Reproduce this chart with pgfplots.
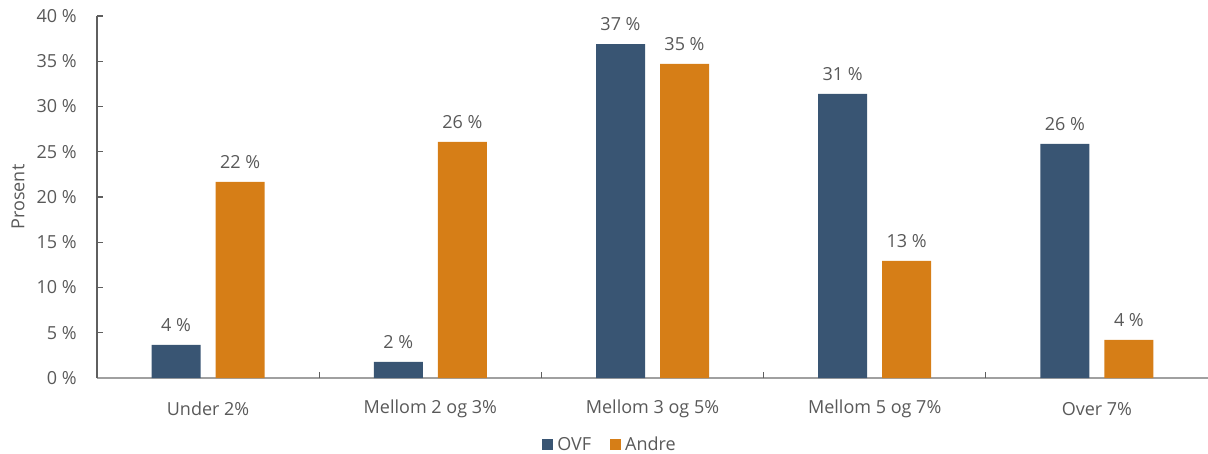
\documentclass[border=0pt]{standalone}
\usepackage{pgfplots}
\pgfplotsset{compat=1.18}
\usepackage{fontspec}
\setmainfont{Open Sans}
\definecolor{ovf}{HTML}{395573}
\definecolor{andre}{HTML}{D67E17}
\definecolor{txt}{HTML}{595959}
\definecolor{yline}{HTML}{5F5F5F}
\definecolor{xline}{HTML}{A0A0A0}

\begin{document}
\fontsize{9pt}{11pt}\selectfont
\begin{tikzpicture}
\useasboundingbox (-48.5pt,-38pt) rectangle (555.5pt,189pt);
\begin{axis}[
  scale only axis, width=555.5pt, height=181pt,
  xmin=-0.5, xmax=4.5, ymin=0, ymax=40,
  clip=false,
  axis x line=bottom, axis y line=left,
  x axis line style={draw=xline, line width=0.7pt, -},
  y axis line style={draw=yline, line width=0.6pt, -},
  tick align=inside, major tick length=3pt,
  ytick={0,5,...,40},
  ytick style={draw=yline, line width=0.6pt},
  yticklabel={\pgfmathprintnumber{\tick}~\%},
  yticklabel style={text=txt, anchor=east, inner sep=0pt, xshift=-10pt},
  xtick={0,...,4},
  xticklabels={Under 2\%, Mellom 2 og 3\%, Mellom 3 og 5\%, Mellom 5 og 7\%, Over 7\%},
  xtick style={draw=none},
  xticklabel style={text=txt, anchor=center, inner sep=0pt, yshift=-12.5pt},
  % separators between the categories
  extra x ticks={0.5,1.5,2.5,3.5},
  extra x tick labels={},
  extra x tick style={tick align=inside, major tick length=3pt, xtick style={draw=yline, line width=0.6pt}},
  /pgf/number format/assume math mode=true,
  ylabel={Prosent},
  every axis y label/.style={at={(axis description cs:-0.0711,0.5)}, rotate=90, anchor=center, text=txt},
  ybar, bar width=24.5pt,
  legend columns=-1,
  legend style={draw=none, fill=none, at={(axis description cs:0.4627,-0.1850)}, anchor=center,
    text=txt, /tikz/every even column/.append style={column sep=7.5pt}},
  legend image code/.code={\path[#1] (0pt,-2.75pt) rectangle (5.5pt,2.75pt);},
  nodes near coords={\pgfmathprintnumber[fixed,precision=0]{\pgfplotspointmeta}~\%},
  every node near coord/.append style={text=txt, anchor=south, inner sep=0pt, yshift=6.5pt},
]
\addplot[fill=ovf, draw=none, bar shift=-16pt] coordinates {
  (0,3.65) (1,1.77) (2,36.9) (3,31.4) (4,25.86)};
\addplot[fill=andre, draw=none, bar shift=16pt] coordinates {
  (0,21.66) (1,26.08) (2,34.7) (3,12.93) (4,4.2)};
\legend{OVF, Andre}
\end{axis}
\end{tikzpicture}
\end{document}
